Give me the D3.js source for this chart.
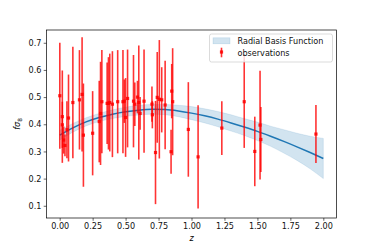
<!DOCTYPE html>
<html>
<head>
<meta charset="utf-8">
<style>
  body { margin: 0; background: #fff; }
  text { font-family: "DejaVu Sans", sans-serif; }
</style>
</head>
<body>
<div id="chart"></div>
<script src="https://cdn.jsdelivr.net/npm/d3@7"></script>
<script>
// observations: redshift, f sigma8, error
const obsZ   = [0.001, 0.02, 0.02, 0.03, 0.04, 0.055, 0.067, 0.10, 0.15, 0.17, 0.18,
                0.25, 0.30, 0.31, 0.32, 0.36, 0.37, 0.38, 0.40, 0.44, 0.48, 0.49, 0.50,
                0.515, 0.56, 0.57, 0.59, 0.60, 0.61, 0.64, 0.70, 0.703, 0.727, 0.74,
                0.756, 0.774, 0.80, 0.845, 0.85, 0.857, 0.976, 1.05, 1.23, 1.40, 1.48,
                1.52, 1.526, 1.944];
const obsVal = [0.505, 0.428, 0.398, 0.342, 0.322, 0.38, 0.423, 0.48, 0.49, 0.51, 0.36,
                0.367, 0.41, 0.44, 0.483, 0.477, 0.477, 0.48, 0.474, 0.483, 0.483, 0.485, 0.425,
                0.495, 0.485, 0.474, 0.50, 0.48, 0.44, 0.485, 0.474, 0.435, 0.296, 0.499,
                0.492, 0.49, 0.471, 0.299, 0.522, 0.483, 0.381, 0.28, 0.386, 0.483, 0.30,
                0.397, 0.344, 0.364];
const obsErr = [0.195, 0.17, 0.085, 0.05, 0.04, 0.105, 0.16, 0.205, 0.183, 0.21, 0.19,
                0.155, 0.15, 0.19, 0.19, 0.15, 0.17, 0.18, 0.195, 0.19, 0.19, 0.08, 0.145,
                0.18, 0.17, 0.08, 0.06, 0.21, 0.06, 0.19, 0.065, 0.05, 0.19, 0.167,
                0.218, 0.12, 0.163, 0.081, 0.1, 0.197, 0.174, 0.19, 0.099, 0.17, 0.128,
                0.2, 0.12, 0.107];

// radial basis function reconstruction: mean and 1-sigma half width
const rbfZ     = [0.0, 0.1, 0.2, 0.3, 0.4, 0.5, 0.6, 0.7, 0.8, 0.9, 1.0,
                  1.1, 1.2, 1.3, 1.4, 1.5, 1.6, 1.7, 1.8, 1.9, 2.0];
const rbfMean  = [0.360, 0.387, 0.409, 0.425, 0.437, 0.446, 0.452, 0.455, 0.454, 0.449, 0.441,
                  0.431, 0.419, 0.405, 0.390, 0.374, 0.356, 0.337, 0.317, 0.296, 0.274];
const rbfSigma = [0.018, 0.016, 0.015, 0.015, 0.016, 0.017, 0.018, 0.018, 0.019, 0.021, 0.024,
                  0.026, 0.028, 0.030, 0.031, 0.034, 0.037, 0.043, 0.050, 0.060, 0.074];

const xTicks = [0, 0.25, 0.5, 0.75, 1.0, 1.25, 1.5, 1.75, 2.0];
const yTicks = [0.1, 0.2, 0.3, 0.4, 0.5, 0.6, 0.7];

const W = 374, H = 249;
const margin = { top: 30, right: 37.5, bottom: 31, left: 46.5 };
const width = W - margin.left - margin.right;
const height = H - margin.top - margin.bottom;

const svg = d3.select("#chart").append("svg")
    .attr("width", W).attr("height", H);
const g = svg.append("g")
    .attr("transform", `translate(${margin.left},${margin.top})`);

const x = d3.scaleLinear().domain([-0.1, 2.1]).range([0, width]);
const y = d3.scaleLinear().domain([0.055, 0.747]).range([height, 0]);

const rbf = rbfZ.map((z, i) => ({ z: z, m: rbfMean[i], s: rbfSigma[i] }));
const obs = obsZ.map((z, i) => ({ z: z, v: obsVal[i], e: obsErr[i] }));

const blue = "#1f77b4";

g.append("path")
    .datum(rbf)
    .attr("fill", blue).attr("fill-opacity", 0.2)
    .attr("stroke", blue).attr("stroke-opacity", 0.2).attr("stroke-width", 0.6)
    .attr("d", d3.area()
        .curve(d3.curveMonotoneX)
        .x(d => x(d.z))
        .y0(d => y(d.m - d.s))
        .y1(d => y(d.m + d.s)));

g.append("path")
    .datum(rbf)
    .attr("fill", "none")
    .attr("stroke", blue)
    .attr("stroke-width", 1.5)
    .attr("d", d3.line().curve(d3.curveMonotoneX).x(d => x(d.z)).y(d => y(d.m)));

const bars = g.append("g");
bars.selectAll("line")
    .data(obs)
    .join("line")
    .attr("x1", d => x(d.z)).attr("x2", d => x(d.z))
    .attr("y1", d => y(d.v - d.e)).attr("y2", d => y(d.v + d.e))
    .attr("stroke", "red").attr("stroke-opacity", 0.8)
    .attr("stroke-width", 1.6);
bars.selectAll("rect")
    .data(obs)
    .join("rect")
    .attr("x", d => x(d.z) - 1.6).attr("y", d => y(d.v) - 1.6)
    .attr("width", 3.2).attr("height", 3.2)
    .attr("fill", "red").attr("fill-opacity", 0.85);

// axes
const xAxis = g.append("g")
    .attr("transform", `translate(0,${height})`)
    .call(d3.axisBottom(x).tickValues(xTicks).tickFormat(d3.format(".2f"))
        .tickSize(2.8).tickPadding(2.3));
const yAxis = g.append("g")
    .call(d3.axisLeft(y).tickValues(yTicks).tickFormat(d3.format(".1f"))
        .tickSize(2.8).tickPadding(2.3));
[xAxis, yAxis].forEach(a => {
    a.select(".domain").remove();
    a.selectAll("line").attr("stroke", "#000").attr("stroke-width", 0.6);
    a.selectAll("text").attr("font-size", 8.1).attr("fill", "#111")
        .style("font-family", "DejaVu Sans");
});

g.append("rect")
    .attr("width", width).attr("height", height)
    .attr("fill", "none").attr("stroke", "#000").attr("stroke-width", 0.7);

// axis labels
svg.append("text")
    .attr("x", margin.left + x(1.0)).attr("y", 241)
    .attr("text-anchor", "middle")
    .attr("font-size", 8.1).attr("font-style", "italic")
    .text("z");

const yl = svg.append("text")
    .attr("transform", `translate(20,${margin.top + height / 2}) rotate(-90)`)
    .attr("text-anchor", "middle")
    .attr("font-size", 8.1).attr("font-style", "italic");
yl.append("tspan").text("fσ");
yl.append("tspan").attr("font-size", 5.8).attr("dy", 2).attr("font-style", "normal").text("8");

// legend
const lg = svg.append("g").attr("transform", "translate(209.5,34)");
lg.append("rect")
    .attr("width", 123).attr("height", 28).attr("rx", 2)
    .attr("fill", "#fff").attr("fill-opacity", 0.8)
    .attr("stroke", "#ccc").attr("stroke-width", 0.7);
lg.append("rect")
    .attr("x", 3.5).attr("y", 3.8).attr("width", 17).attr("height", 6)
    .attr("fill", blue).attr("fill-opacity", 0.2)
    .attr("stroke", blue).attr("stroke-opacity", 0.2).attr("stroke-width", 0.6);
lg.append("text").attr("x", 28).attr("y", 10.2).attr("font-size", 8.1)
    .attr("fill", "#111").text("Radial Basis Function");
lg.append("line")
    .attr("x1", 12).attr("x2", 12).attr("y1", 13.7).attr("y2", 23.3)
    .attr("stroke", "red").attr("stroke-opacity", 0.8).attr("stroke-width", 1.6);
lg.append("rect")
    .attr("x", 10.4).attr("y", 16.4).attr("width", 3.2).attr("height", 3.2)
    .attr("fill", "red").attr("fill-opacity", 0.85);
lg.append("text").attr("x", 28).attr("y", 22.2).attr("font-size", 8.1)
    .attr("fill", "#111").text("observations");
</script>
</body>
</html>
